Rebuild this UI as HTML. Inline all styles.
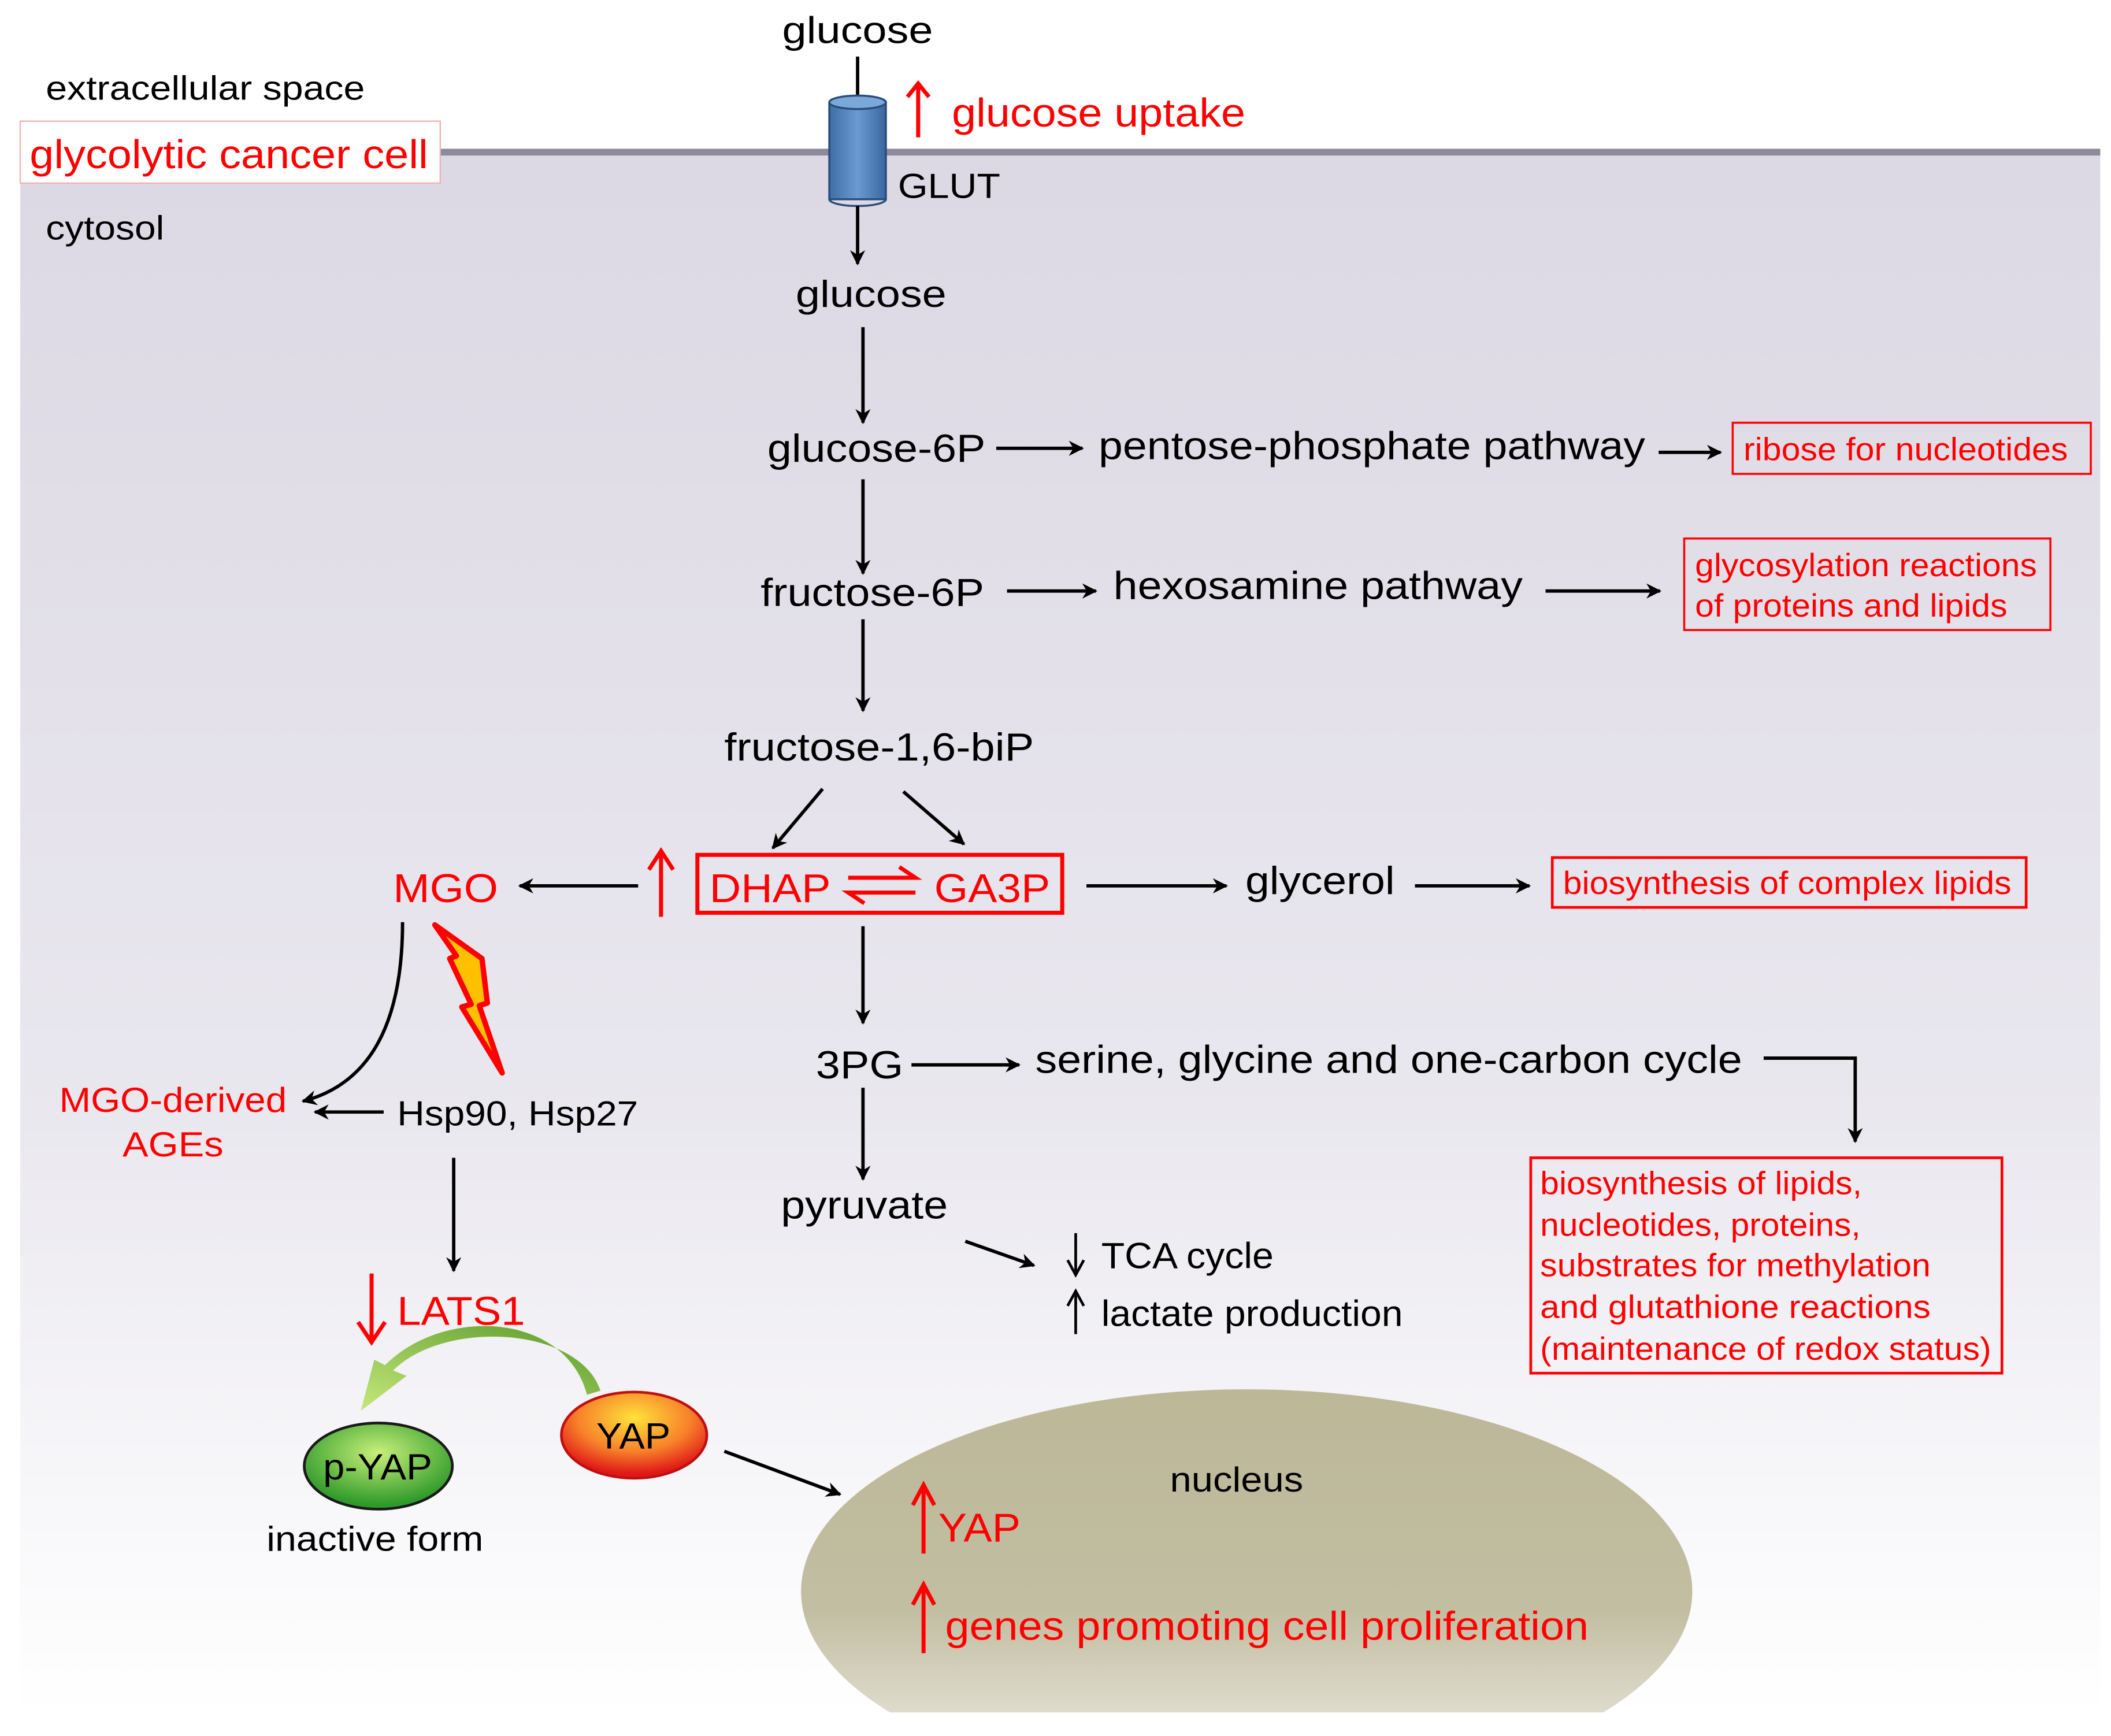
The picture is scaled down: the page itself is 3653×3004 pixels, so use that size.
<!DOCTYPE html>
<html><head><meta charset="utf-8"><style>
html,body{margin:0;padding:0;background:#fff}
svg{display:block}
text{font-family:"Liberation Sans",sans-serif}
</style></head><body>
<svg width="3653" height="3004" viewBox="0 0 1568 1289.5" preserveAspectRatio="none" xmlns="http://www.w3.org/2000/svg">
<defs>
<linearGradient id="bg" x1="0" y1="0" x2="0" y2="1">
<stop offset="0" stop-color="#dcd8e4"/><stop offset="0.6" stop-color="#e9e7ee"/><stop offset="1" stop-color="#ffffff"/>
</linearGradient>
<linearGradient id="nuc" x1="0" y1="0" x2="0" y2="1">
<stop offset="0" stop-color="#bcb797"/><stop offset="0.55" stop-color="#c2bea2"/><stop offset="1" stop-color="#f4f3ee"/>
</linearGradient>
<radialGradient id="gy" cx="0.5" cy="0.35" r="0.6"><stop offset="0" stop-color="#c8f07a"/><stop offset="1" stop-color="#2f9a2a"/></radialGradient>
<radialGradient id="ry" cx="0.5" cy="0.3" r="0.65"><stop offset="0" stop-color="#ffe23a"/><stop offset="0.6" stop-color="#f7812a"/><stop offset="1" stop-color="#e01818"/></radialGradient>
<linearGradient id="cyl" x1="0" y1="0" x2="1" y2="0"><stop offset="0" stop-color="#3f6ea8"/><stop offset="0.5" stop-color="#6a9ad0"/><stop offset="1" stop-color="#3a66a0"/></linearGradient>
<linearGradient id="garr" x1="1" y1="0" x2="0" y2="1"><stop offset="0" stop-color="#5a9a2a"/><stop offset="1" stop-color="#c4e87a"/></linearGradient>
<marker id="a" viewBox="0 0 10 10" refX="9" refY="5" markerWidth="4.5" markerHeight="4.5" orient="auto"><path d="M0,0L10,5L0,10L3,5z" fill="#000"/></marker>
<clipPath id="cl"><rect x="0" y="0" width="1568" height="1272"/></clipPath>
</defs>
<rect x="15" y="113" width="1545" height="1160" fill="url(#bg)"/>
<line x1="15" y1="113" x2="1560" y2="113" stroke="#8e8a9a" stroke-width="5"/>
<ellipse cx="926" cy="1182" rx="331" ry="150" fill="url(#nuc)" clip-path="url(#cl)"/>
<rect x="15" y="90" width="312" height="46" fill="#fff" stroke="#f3b0b0" stroke-width="1"/>
<text x="22" y="125" font-size="30" fill="red" textLength="296" lengthAdjust="spacingAndGlyphs">glycolytic cancer cell</text>
<text x="34" y="74" font-size="25" textLength="237" lengthAdjust="spacingAndGlyphs">extracellular space</text>
<text x="34" y="178" font-size="25" textLength="88" lengthAdjust="spacingAndGlyphs">cytosol</text>
<text x="581" y="32" font-size="28" textLength="112" lengthAdjust="spacingAndGlyphs">glucose</text>
<line x1="637" y1="42" x2="637" y2="80" stroke="#000" stroke-width="2.5"/>
<rect x="616" y="76" width="42" height="72" fill="url(#cyl)" stroke="#2a4d7a" stroke-width="1.5"/>
<ellipse cx="637" cy="76" rx="21" ry="5" fill="#7aa8da" stroke="#2a4d7a" stroke-width="1.5"/>
<path d="M616,148 A21,5 0 0 0 658,148" fill="none" stroke="#2a4d7a" stroke-width="1.5"/>
<text x="667" y="147" font-size="26" textLength="76" lengthAdjust="spacingAndGlyphs">GLUT</text>
<line x1="682" y1="102" x2="682" y2="62" stroke="red" stroke-width="3"/>
<path d="M674,72 L682,62 L690,72" fill="none" stroke="red" stroke-width="3"/>
<text x="707" y="94" font-size="30" fill="red" textLength="218" lengthAdjust="spacingAndGlyphs">glucose uptake</text>
<line x1="637" y1="153" x2="637" y2="196" stroke="#000" stroke-width="2.5" marker-end="url(#a)"/>
<text x="591" y="228" font-size="28" textLength="112" lengthAdjust="spacingAndGlyphs">glucose</text>
<line x1="641" y1="243" x2="641" y2="314" stroke="#000" stroke-width="2.5" marker-end="url(#a)"/>
<text x="570" y="343" font-size="29" textLength="162" lengthAdjust="spacingAndGlyphs">glucose-6P</text>
<line x1="740" y1="333" x2="804" y2="333" stroke="#000" stroke-width="2.5" marker-end="url(#a)"/>
<text x="816" y="341" font-size="29" textLength="406" lengthAdjust="spacingAndGlyphs">pentose-phosphate pathway</text>
<line x1="1232" y1="336" x2="1278" y2="336" stroke="#000" stroke-width="2.5" marker-end="url(#a)"/>
<rect x="1287" y="314" width="266" height="38" fill="none" stroke="red" stroke-width="1.5"/>
<text x="1295" y="342" font-size="24" fill="red" textLength="241" lengthAdjust="spacingAndGlyphs">ribose for nucleotides</text>
<line x1="641" y1="356" x2="641" y2="426" stroke="#000" stroke-width="2.5" marker-end="url(#a)"/>
<text x="565" y="450" font-size="29" textLength="166" lengthAdjust="spacingAndGlyphs">fructose-6P</text>
<line x1="748" y1="439" x2="814" y2="439" stroke="#000" stroke-width="2.5" marker-end="url(#a)"/>
<text x="827" y="445" font-size="29" textLength="304" lengthAdjust="spacingAndGlyphs">hexosamine pathway</text>
<line x1="1148" y1="439" x2="1233" y2="439" stroke="#000" stroke-width="2.5" marker-end="url(#a)"/>
<rect x="1251" y="400" width="272" height="68" fill="none" stroke="red" stroke-width="1.5"/>
<text x="1259" y="428" font-size="24" fill="red" textLength="254" lengthAdjust="spacingAndGlyphs">glycosylation reactions</text>
<text x="1259" y="458" font-size="24" fill="red" textLength="232" lengthAdjust="spacingAndGlyphs">of proteins and lipids</text>
<line x1="641" y1="460" x2="641" y2="528" stroke="#000" stroke-width="2.5" marker-end="url(#a)"/>
<text x="538" y="565" font-size="29" textLength="230" lengthAdjust="spacingAndGlyphs">fructose-1,6-biP</text>
<line x1="611" y1="586" x2="574" y2="630" stroke="#000" stroke-width="2.5" marker-end="url(#a)"/>
<line x1="671" y1="588" x2="716" y2="627" stroke="#000" stroke-width="2.5" marker-end="url(#a)"/>
<rect x="518" y="635" width="271" height="43" fill="none" stroke="red" stroke-width="3"/>
<text x="527" y="670" font-size="30" fill="red" textLength="90" lengthAdjust="spacingAndGlyphs">DHAP</text>
<text x="694" y="670" font-size="30" fill="red" textLength="86" lengthAdjust="spacingAndGlyphs">GA3P</text>
<path d="M630,652 L680,652 L668,644" fill="none" stroke="red" stroke-width="3"/>
<path d="M680,663 L630,663 L642,671" fill="none" stroke="red" stroke-width="3"/>
<line x1="491" y1="681" x2="491" y2="633" stroke="red" stroke-width="3"/>
<path d="M482,646 L491,632 L500,646" fill="none" stroke="red" stroke-width="3"/>
<line x1="474" y1="658" x2="386" y2="658" stroke="#000" stroke-width="2.5" marker-end="url(#a)"/>
<text x="292" y="670" font-size="30" fill="red" textLength="78" lengthAdjust="spacingAndGlyphs">MGO</text>
<line x1="807" y1="658" x2="911" y2="658" stroke="#000" stroke-width="2.5" marker-end="url(#a)"/>
<text x="925" y="664" font-size="29" textLength="111" lengthAdjust="spacingAndGlyphs">glycerol</text>
<line x1="1051" y1="658" x2="1136" y2="658" stroke="#000" stroke-width="2.5" marker-end="url(#a)"/>
<rect x="1153" y="637" width="352" height="37" fill="none" stroke="red" stroke-width="2"/>
<text x="1161" y="664" font-size="24" fill="red" textLength="333" lengthAdjust="spacingAndGlyphs">biosynthesis of complex lipids</text>
<path d="M323,687 L358,712 L362,745 L356,747 L373,797 L343,748 L350,746 L334,712 L339,710 Z" fill="#ffc000" stroke="red" stroke-width="4" stroke-linejoin="round"/>
<path d="M299,685 C299,760 275,805 225,818" fill="none" stroke="#000" stroke-width="2.5" marker-end="url(#a)"/>
<text x="44" y="826" font-size="26" fill="red" textLength="169" lengthAdjust="spacingAndGlyphs">MGO-derived</text>
<text x="91" y="859" font-size="26" fill="red" textLength="75" lengthAdjust="spacingAndGlyphs">AGEs</text>
<line x1="285" y1="826" x2="234" y2="826" stroke="#000" stroke-width="2.5" marker-end="url(#a)"/>
<text x="295" y="836" font-size="26" textLength="179" lengthAdjust="spacingAndGlyphs">Hsp90, Hsp27</text>
<line x1="337" y1="860" x2="337" y2="944" stroke="#000" stroke-width="2.5" marker-end="url(#a)"/>
<line x1="276" y1="946" x2="276" y2="997" stroke="red" stroke-width="3"/>
<path d="M266,982 L276,997 L286,982" fill="none" stroke="red" stroke-width="3"/>
<text x="295" y="984" font-size="30" fill="red" textLength="95" lengthAdjust="spacingAndGlyphs">LATS1</text>
<path d="M446,1033 C430,985 330,980 292,1018 L302,1022 L268,1048 L278,1010 L286,1014 C330,970 420,975 436,1036 Z" fill="url(#garr)"/>
<line x1="641" y1="688" x2="641" y2="760" stroke="#000" stroke-width="2.5" marker-end="url(#a)"/>
<text x="606" y="801" font-size="29" textLength="65" lengthAdjust="spacingAndGlyphs">3PG</text>
<line x1="677" y1="791" x2="757" y2="791" stroke="#000" stroke-width="2.5" marker-end="url(#a)"/>
<text x="769" y="797" font-size="29" textLength="525" lengthAdjust="spacingAndGlyphs">serine, glycine and one-carbon cycle</text>
<path d="M1310,786 L1378,786 L1378,848" fill="none" stroke="#000" stroke-width="2.5" marker-end="url(#a)"/>
<rect x="1137" y="860" width="350" height="160" fill="none" stroke="red" stroke-width="2"/>
<g font-size="24" fill="red">
<text x="1144" y="887" textLength="239" lengthAdjust="spacingAndGlyphs">biosynthesis of lipids,</text>
<text x="1144" y="918" textLength="238" lengthAdjust="spacingAndGlyphs">nucleotides, proteins,</text>
<text x="1144" y="948" textLength="290" lengthAdjust="spacingAndGlyphs">substrates for methylation</text>
<text x="1144" y="979" textLength="290" lengthAdjust="spacingAndGlyphs">and  glutathione reactions</text>
<text x="1144" y="1010" textLength="335" lengthAdjust="spacingAndGlyphs">(maintenance of redox status)</text></g>
<line x1="641" y1="808" x2="641" y2="876" stroke="#000" stroke-width="2.5" marker-end="url(#a)"/>
<text x="580" y="905" font-size="29" textLength="124" lengthAdjust="spacingAndGlyphs">pyruvate</text>
<line x1="717" y1="922" x2="768" y2="940" stroke="#000" stroke-width="2.5" marker-end="url(#a)"/>
<line x1="799" y1="916" x2="799" y2="946" stroke="#000" stroke-width="2"/>
<path d="M793,936 L799,947 L805,936" fill="none" stroke="#000" stroke-width="2"/>
<text x="818" y="942" font-size="27" textLength="128" lengthAdjust="spacingAndGlyphs">TCA cycle</text>
<line x1="799" y1="960" x2="799" y2="991" stroke="#000" stroke-width="2"/>
<path d="M793,970 L799,959 L805,970" fill="none" stroke="#000" stroke-width="2"/>
<text x="818" y="985" font-size="27" textLength="224" lengthAdjust="spacingAndGlyphs">lactate production</text>
<ellipse cx="281" cy="1089" rx="55" ry="32" fill="url(#gy)" stroke="#1a1a1a" stroke-width="2"/>
<text x="240" y="1099" font-size="27" textLength="81" lengthAdjust="spacingAndGlyphs">p-YAP</text>
<text x="198" y="1152" font-size="26" textLength="161" lengthAdjust="spacingAndGlyphs">inactive form</text>
<ellipse cx="471" cy="1066" rx="54" ry="32" fill="url(#ry)" stroke="#c01010" stroke-width="2"/>
<text x="443" y="1076" font-size="27" textLength="55" lengthAdjust="spacingAndGlyphs">YAP</text>
<line x1="538" y1="1078" x2="624" y2="1110" stroke="#000" stroke-width="2.5" marker-end="url(#a)"/>
<text x="869" y="1108" font-size="26" textLength="99" lengthAdjust="spacingAndGlyphs">nucleus</text>
<line x1="686" y1="1154" x2="686" y2="1104" stroke="red" stroke-width="3"/>
<path d="M678,1118 L686,1103 L694,1118" fill="none" stroke="red" stroke-width="3"/>
<text x="697" y="1145" font-size="30" fill="red" textLength="61" lengthAdjust="spacingAndGlyphs">YAP</text>
<line x1="686" y1="1228" x2="686" y2="1178" stroke="red" stroke-width="3"/>
<path d="M678,1192 L686,1177 L694,1192" fill="none" stroke="red" stroke-width="3"/>
<text x="702" y="1218" font-size="30" fill="red" textLength="478" lengthAdjust="spacingAndGlyphs">genes promoting cell proliferation</text>
</svg>
</body></html>
